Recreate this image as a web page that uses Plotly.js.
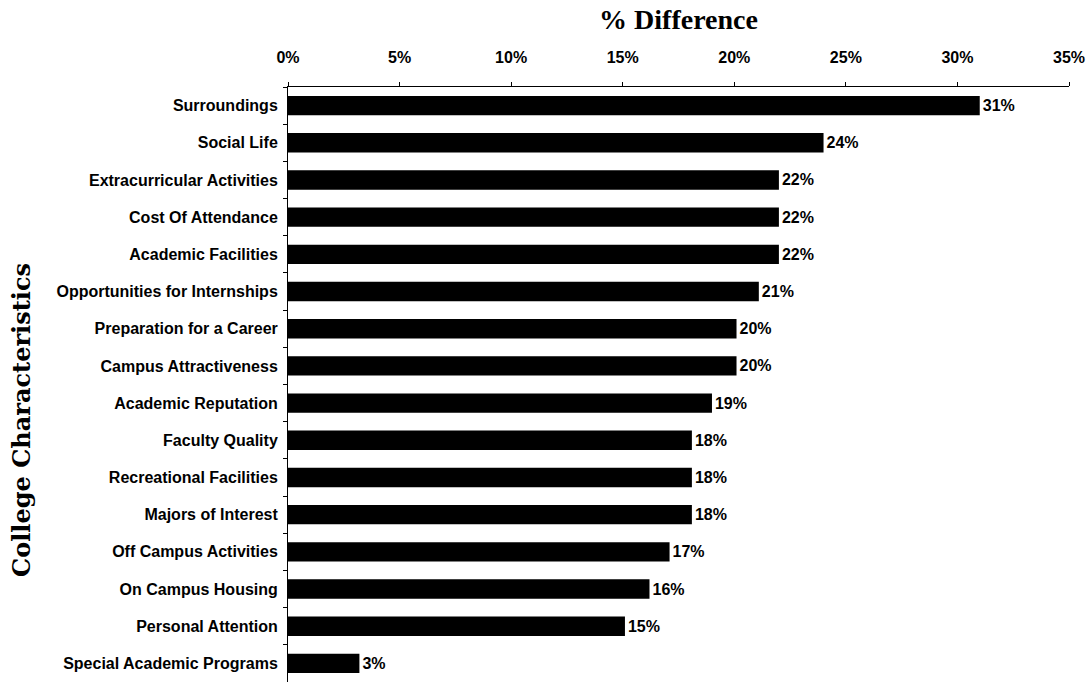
<!DOCTYPE html>
<html>
<head>
<meta charset="utf-8">
<script src="https://cdn.plot.ly/plotly-3.0.1.min.js"></script>
<style>html,body{margin:0;padding:0;background:#fff;}#chart{width:1090px;height:682px;}</style>
</head>
<body>
<div id="chart"></div>
<script>
const categories = [
  "Surroundings",
  "Social Life",
  "Extracurricular Activities",
  "Cost Of Attendance",
  "Academic Facilities",
  "Opportunities for Internships",
  "Preparation for a Career",
  "Campus Attractiveness",
  "Academic Reputation",
  "Faculty Quality",
  "Recreational Facilities",
  "Majors of Interest",
  "Off Campus Activities",
  "On Campus Housing",
  "Personal Attention",
  "Special Academic Programs"
];
const pctDifference = [31.0, 24.0, 22.0, 22.0, 22.0, 21.1, 20.1, 20.1, 19.0, 18.1, 18.1, 18.1, 17.1, 16.2, 15.1, 3.2];
const valueLabels = ["31%","24%","22%","22%","22%","21%","20%","20%","19%","18%","18%","18%","17%","16%","15%","3%"];
const xTickVals = [0, 5, 10, 15, 20, 25, 30, 35];
const yTitle = "College Characteristics";

const sansBold = {family: "Liberation Sans, Arial, sans-serif", size: 16, color: "#000", weight: "bold"};
const titleFont = {family: "Liberation Serif, Times New Roman, serif", size: 28, color: "#000", weight: "bold"};
const yTitleFont = {family: "DejaVu Serif, Liberation Serif, serif", size: 24, color: "#000", weight: "bold"};

const trace = {
  type: "bar",
  orientation: "h",
  y: categories,
  x: pctDifference,
  text: valueLabels,
  textposition: "outside",
  textfont: sansBold,
  cliponaxis: false,
  marker: {color: "#000"},
  width: 0.52,
  hoverinfo: "none"
};

const layout = {
  width: 1090,
  height: 682,
  margin: {l: 288, r: 21, t: 87, b: 0},
  paper_bgcolor: "#fff",
  plot_bgcolor: "#fff",
  showlegend: false,
  title: {
    text: "% Difference",
    font: titleFont,
    x: 0.5, xref: "paper",
    y: 0.972, yref: "container", yanchor: "middle"
  },
  xaxis: {
    side: "top",
    range: [0, 35],
    tickvals: xTickVals,
    ticktext: xTickVals.map(v => v + "%"),
    showgrid: false,
    zeroline: false,
    showline: true,
    linecolor: "#000",
    linewidth: 1,
    ticks: "outside",
    ticklen: 4,
    tickcolor: "#000",
    ticklabelstandoff: 13,
    tickfont: sansBold,
    fixedrange: true
  },
  yaxis: {
    type: "category",
    autorange: "reversed",
    showgrid: false,
    zeroline: false,
    showline: true,
    linecolor: "#000",
    linewidth: 1,
    ticks: "outside",
    tickson: "boundaries",
    ticklen: 4,
    tickcolor: "#000",
    ticklabelstandoff: 6,
    tickfont: sansBold,
    fixedrange: true
  },
  annotations: [{
    text: yTitle,
    textangle: -90,
    font: yTitleFont,
    showarrow: false,
    xref: "paper", yref: "paper",
    x: -0.341, y: 0.44,
    xanchor: "center", yanchor: "middle"
  }]
};

Plotly.newPlot("chart", [trace], layout, {displayModeBar: false, staticPlot: true});
</script>
</body>
</html>
